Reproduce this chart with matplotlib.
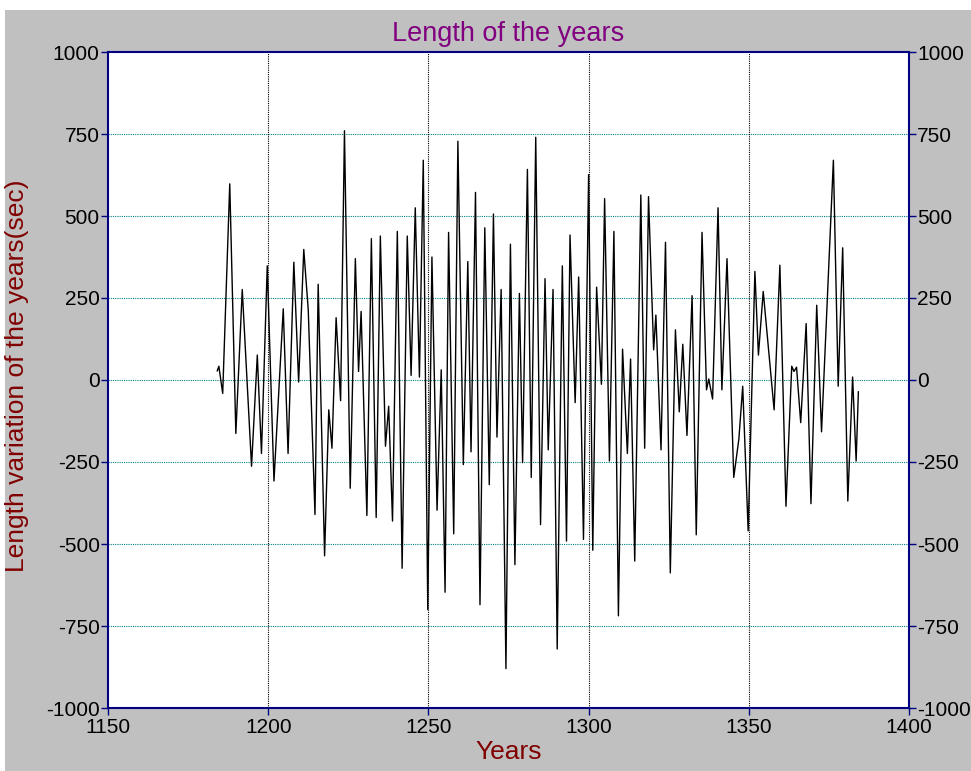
import matplotlib
matplotlib.use("Agg")
import matplotlib.pyplot as plt
from matplotlib import font_manager
from matplotlib.patches import Rectangle

# Werte (Extrema)
jahre = [1184.1, 1184.6, 1185.8, 1188.0, 1189.9, 1191.9, 1194.8, 1196.6, 1197.9, 1199.7,
         1201.8, 1204.7, 1206.2, 1208.0, 1209.5, 1211.1, 1212.5, 1214.6, 1215.6, 1217.6,
         1218.9, 1219.9, 1221.2, 1222.6, 1223.8, 1225.6, 1227.2, 1228.2, 1229.0, 1230.8,
         1232.2, 1233.7, 1235.0, 1236.6, 1237.6, 1238.8, 1240.3, 1241.8, 1243.4, 1244.6,
         1245.9, 1247.2, 1248.4, 1249.8, 1251.1, 1252.7, 1254.0, 1255.2, 1256.3, 1257.9,
         1259.2, 1260.9, 1262.3, 1263.3, 1264.7, 1266.1, 1267.6, 1269.0, 1270.3, 1271.4,
         1272.7, 1274.2, 1275.6, 1277.0, 1278.4, 1279.4, 1280.9, 1282.1, 1283.5, 1285.0,
         1286.4, 1287.4, 1288.9, 1290.2, 1291.8, 1293.1, 1294.2, 1295.8, 1296.9, 1298.4,
         1300.0, 1301.3, 1302.5, 1304.0, 1305.0, 1306.5, 1307.9, 1309.3, 1310.6, 1312.1,
         1313.1, 1314.4, 1316.3, 1317.5, 1318.7, 1320.3, 1321.0, 1322.6, 1324.0, 1325.5,
         1327.1, 1328.3, 1329.4, 1330.7, 1332.3, 1333.6, 1335.4, 1336.8, 1337.5, 1338.7,
         1340.4, 1341.6, 1343.2, 1345.3, 1346.9, 1348.1, 1349.8, 1351.9, 1353.0, 1354.5,
         1357.9, 1359.7, 1361.6, 1363.4, 1364.1, 1364.9, 1366.2, 1367.9, 1369.4, 1371.2,
         1372.7, 1376.4, 1377.9, 1379.3, 1380.9, 1382.4, 1383.5, 1384.2]
laengen = [28, 42, -41, 598, -163, 276, -263, 76, -224, 348,
           -308, 217, -224, 359, -6, 398, 214, -410, 292, -536,
           -91, -208, 190, -63, 760, -330, 370, 26, 209, -413,
           431, -419, 439, -202, -80, -430, 453, -574, 439, 14,
           525, 9, 670, -700, 375, -397, 31, -647, 450, -469,
           728, -258, 361, -219, 572, -685, 464, -319, 506, -174,
           276, -880, 414, -563, 264, -252, 642, -297, 740, -441,
           309, -213, 276, -820, 348, -491, 442, -69, 314, -486,
           626, -519, 283, -13, 553, -247, 453, -719, 94, -224,
           64, -552, 564, -208, 559, 92, 198, -213, 420, -588,
           153, -97, 109, -169, 257, -472, 450, -30, 3, -58,
           525, -30, 370, -297, -180, -19, -460, 331, 76, 270,
           -91, 350, -385, 42, 26, 39, -130, 172, -377, 228,
           -158, 670, -19, 403, -369, 9, -247, -36]

x_ticks = [1150, 1200, 1250, 1300, 1350, 1400]
y_ticks = [-1000, -750, -500, -250, 0, 250, 500, 750, 1000]

# Schrift: schmale Variante falls vorhanden
namen = {f.name for f in font_manager.fontManager.ttflist}
schrift = 'Liberation Sans Narrow' if 'Liberation Sans Narrow' in namen else 'Liberation Sans'
plt.rcParams['font.family'] = [schrift, 'DejaVu Sans']
plt.rcParams['axes.unicode_minus'] = False

fig = plt.figure(figsize=(9.71, 7.71), dpi=100, facecolor='#C0C0C0')
# weisser Rand oben und links
fig.patches.append(Rectangle((0, 1 - 10 / 771), 1, 10 / 771, transform=fig.transFigure,
                             facecolor='white', edgecolor='none', zorder=-1))
fig.patches.append(Rectangle((0, 0), 5 / 971, 1, transform=fig.transFigure,
                             facecolor='white', edgecolor='none', zorder=-1))

ax = fig.add_axes([108 / 971, 1 - 708 / 771, 801 / 971, 656 / 771])
ax.set_facecolor('white')

ax.plot(jahre, laengen, color='black', linewidth=1.0, zorder=3)

ax.set_xlim(1150, 1400)
ax.set_ylim(-1000, 1000)
ax.set_xticks(x_ticks)
ax.set_yticks(y_ticks)

# Gitter: horizontal petrol, vertikal schwarz gepunktet
for y in y_ticks[1:-1]:
    ax.axhline(y, color='#008080', linestyle=(0, (1, 1)), linewidth=0.8, zorder=1)
for x in x_ticks[1:-1]:
    ax.axvline(x, color='black', linestyle=(0, (1, 1)), linewidth=0.8, zorder=1)

for s in ax.spines.values():
    s.set_color('#000080')
    s.set_linewidth(1.5)

ax.tick_params(axis='both', colors='#000080', labelcolor='black', labelsize=15,
               direction='out', length=5, width=1)
ax.tick_params(axis='y', left=True, right=True, labelleft=True, labelright=True, pad=1)
ax.tick_params(axis='x', pad=2)

fig.text(0.5235, 1 - 34 / 771, 'Length of the years', color='#800080', fontsize=19.5,
         ha='center', va='center')
fig.text(0.5235, 1 - 752 / 771, 'Years', color='#800000', fontsize=19,
         ha='center', va='center')
fig.text(17 / 971, 1 - 376 / 771, 'Length variation of the years(sec)', color='#800000',
         fontsize=19, rotation=90, ha='center', va='center')

fig.savefig('out.png', dpi=100, facecolor=fig.get_facecolor())
